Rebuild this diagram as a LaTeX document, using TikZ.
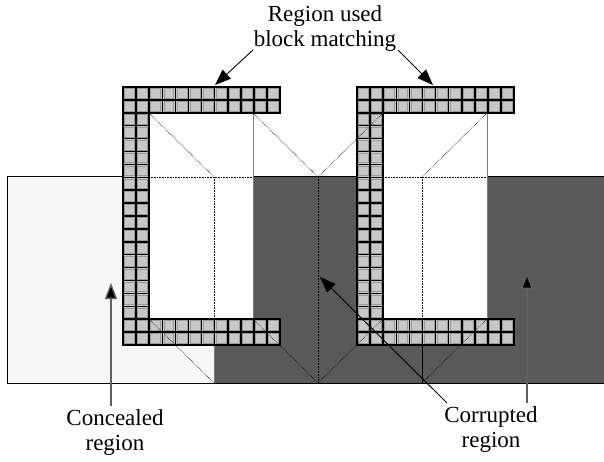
\documentclass[tikz,border=0pt]{standalone}
\usepackage{fontspec}
\setmainfont{Liberation Serif}
\usetikzlibrary{arrows.meta,calc}
\definecolor{darkfill}{HTML}{595959}
\definecolor{lightfill}{HTML}{F7F7F7}
\definecolor{cellfill}{HTML}{C8C8C8}
\definecolor{cellrim}{HTML}{999999}
\definecolor{guide}{HTML}{7A7A7A}
\definecolor{arrgray}{HTML}{606060}
\tikzset{
  dotline/.style={densely dotted, line width=0.6pt, black},
  guideline/.style={guide, line width=1pt},
  border/.style={black, line width=1pt},
  arr/.style={-{Triangle[length=16pt,width=12pt]}, line width=0.9pt, black},
  grayarr/.style={-{Triangle[length=16pt,width=12pt,fill=black]}, line width=1.3pt, arrgray},
  label/.style={font=\fontsize{23}{25}\selectfont, align=center, inner sep=0pt, anchor=base},
}
\newcommand\mycell[2]{%
  \fill[cellfill] (#1,#2) rectangle ++(13.1,12.9);
  \draw[cellrim, line width=0.7pt] ($(#1,#2)+(1.6,1.6)$) rectangle ++(9.9,9.7);
}
\newcommand\gridC[2]{%
  \foreach \i in {0,...,11}{\foreach \j in {0,1,18,19}{\mycell{#1+\i*13.1}{#2+\j*12.9}}}
  \foreach \i in {0,1}{\foreach \j in {2,...,17}{\mycell{#1+\i*13.1}{#2+\j*12.9}}}
  % inner black separators
  \foreach \i in {1,...,11}{\draw[black, line width=1.5pt] (#1+\i*13.1,#2) -- ++(0,25.8);
                            \draw[black, line width=1.5pt] (#1+\i*13.1,#2+232.2) -- ++(0,25.8);}
  \draw[black, line width=1.5pt] (#1+13.1,#2+25.8) -- ++(0,206.4);
  \foreach \j in {1,18,19}{\draw[black, line width=1.5pt] (#1,#2+\j*12.9) -- ++(157.2,0);}
  \foreach \j in {2,...,17}{\draw[black, line width=1.5pt] (#1,#2+\j*12.9) -- ++(26.2,0);}
  \draw[black, line width=2.4pt] (#1,#2) -- ++(157.2,0) -- ++(0,25.8) -- ++(-131,0)
     -- ++(0,206.4) -- ++(131,0) -- ++(0,25.8) -- ++(-157.2,0) -- cycle;
}
\begin{document}
\begin{tikzpicture}[x=1pt,y=-1pt]
\useasboundingbox (0,0) rectangle (604,462);
% regions
\fill[lightfill] (7,177) rectangle (214,383);
\fill[darkfill] (214,177) rectangle (604,383);
\fill[white] (149,113) rectangle (253,319);
\fill[white] (383,113) rectangle (487,319);
% outlines
\draw[border] (123,177) -- (7,177) -- (7,383) -- (604,383);
\draw[border] (253,177) -- (357,177);
\draw[border] (487,177) -- (604,177);
\draw[guideline] (253,113) -- (253,319);
\draw[guideline] (487,113) -- (487,319);
\draw[guide, line width=0.6pt] (214,345) -- (214,383);
% dotted guides
\draw[dotline] (149,177) -- (253,177);
\draw[dotline] (383,177) -- (487,177);
\draw[dotline] (214,177) -- (214,319);
\draw[dotline] (318,177) -- (318,383);
\draw[dotline] (422,177) -- (422,319);
\draw[black, line width=0.7pt] (422,345) -- (422,383);
% grids
\gridC{123}{87}
\gridC{357}{87}
% diagonals
\draw[dotline] (149,113) -- (214,177);
\draw[dotline] (253,113) -- (318,177);
\draw[dotline] (149,319) -- (214,383);
\draw[dotline] (253,319) -- (318,383);
\draw[dotline] (383,113) -- (318,177);
\draw[dotline] (487,113) -- (422,177);
\draw[dotline] (383,319) -- (318,383);
\draw[dotline] (487,319) -- (422,383);
% labels
\node[label] (title) at (325,47) {Region used\\block matching};
\node[label] (conc) at (115,450) {Concealed\\region};
\node[label] (corr) at (491,447) {Corrupted\\region};
% arrows
\coordinate (tL0) at (253,50);
\coordinate (tL1) at (215,85);
\coordinate (tR0) at (398,50);
\coordinate (tR1) at (433,85);
\coordinate (c0) at (111,406);
\coordinate (c1) at (111,283);
\coordinate (m0) at (447,403);
\coordinate (m1) at (320,277);
\coordinate (r0) at (527,403);
\coordinate (r1) at (527,273);
\draw[arr] (tL0) -- (tL1);
\draw[arr] (tR0) -- (tR1);
\draw[grayarr] (c0) -- (c1);
\draw[arr] (m0) -- (m1);
\draw[grayarr] (r0) -- (r1);
\end{tikzpicture}
\end{document}
